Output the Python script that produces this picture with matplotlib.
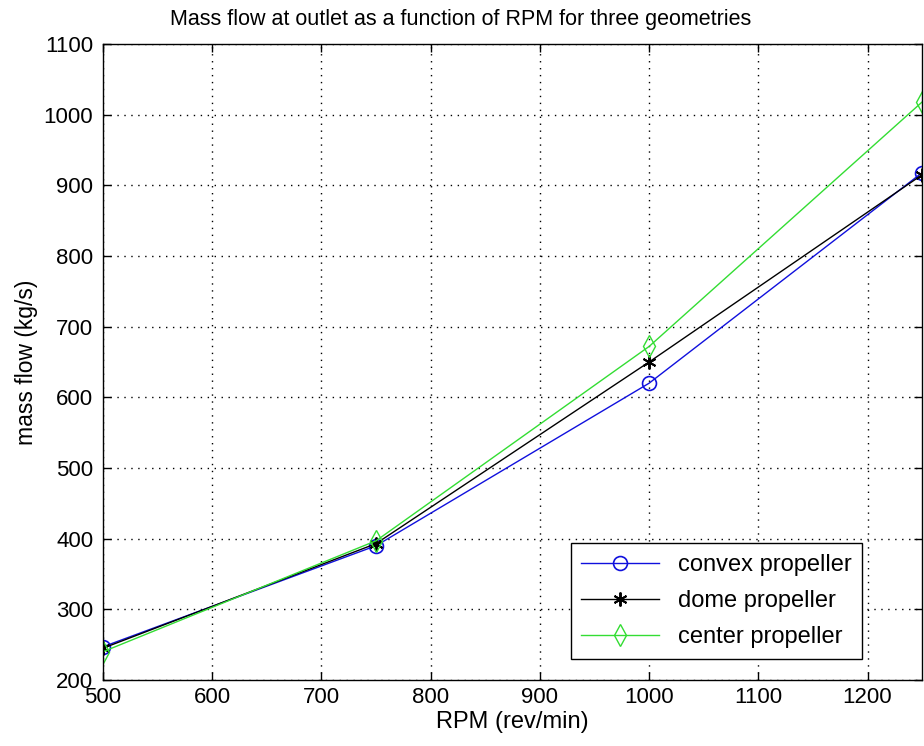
import matplotlib
matplotlib.use("Agg")
import matplotlib.pyplot as plt

# --- data ---
rpm = [500, 750, 1000, 1250]
convex = [247, 390, 620, 918]
dome = [245, 393, 650, 915]
center = [240, 397, 672, 1018]

x_ticks = [500, 600, 700, 800, 900, 1000, 1100, 1200]
y_ticks = [200, 300, 400, 500, 600, 700, 800, 900, 1000, 1100]

plt.rcParams['font.family'] = ['Liberation Sans', 'DejaVu Sans']

fig = plt.figure(figsize=(9.24, 7.46), dpi=100)
ax = fig.add_axes([0.1115, 0.0885, 0.8865, 0.8525])

ax.plot(rpm, convex, color='#1010dd', lw=1.0, marker='o', ms=10,
        mfc='none', mew=1.2, label='convex propeller')
ax.plot(rpm, dome, color='black', lw=1.0, marker=(6, 2, 0), ms=10,
        mew=1.4, label='dome propeller')
ax.plot(rpm, center, color='#33dd33', lw=1.0, marker='d', ms=11,
        mfc='none', mew=1.0, label='center propeller')

ax.set_xlim(500, 1250)
ax.set_ylim(200, 1100)
ax.set_xticks(x_ticks)
ax.set_yticks(y_ticks)
ax.tick_params(direction='in', top=True, right=True, labelsize=16, length=6, width=1)
ax.tick_params(axis='x', pad=5)
ax.tick_params(axis='y', pad=7)
ax.grid(True, color='black', linestyle=(0, (1, 4)), linewidth=1.0)
for s in ax.spines.values():
    s.set_linewidth(1.0)

# title sits left of the axes centre in the reference (image is cropped on the right)
ax.set_title("Mass flow at outlet as a function of RPM for three geometries",
             fontsize=15.5, pad=14, x=0.437)
ax.set_xlabel("RPM (rev/min)", fontsize=17, labelpad=2)
ax.set_ylabel("mass flow (kg/s)", fontsize=16.5, labelpad=4)

leg = ax.legend(loc='lower right', bbox_to_anchor=(0.927, 0.033), fontsize=17,
                handlelength=3.3, frameon=True, fancybox=False, framealpha=1,
                edgecolor='black', borderpad=0.45, labelspacing=0.6,
                borderaxespad=0)
leg.get_frame().set_linewidth(1.0)

fig.savefig("out.png", dpi=100)
